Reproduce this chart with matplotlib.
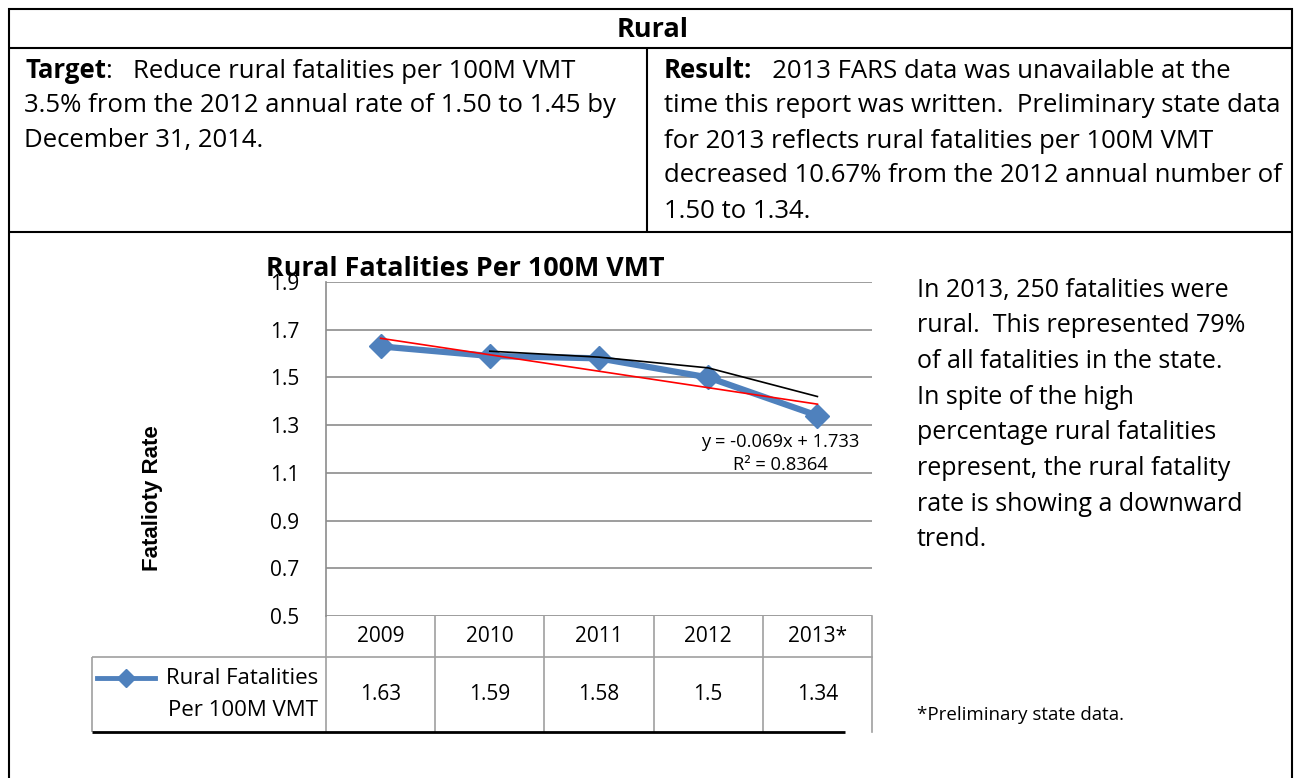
import numpy as np
import pandas as pd
import matplotlib
matplotlib.use('Agg')
import matplotlib.pyplot as plt
from matplotlib.lines import Line2D

years = ['2009', '2010', '2011', '2012', '2013*']
rates = [1.63, 1.59, 1.58, 1.5, 1.34]
rate_labels = ['1.63', '1.59', '1.58', '1.5', '1.34']
trend_slope = -0.069
trend_intercept = 1.733
trend_r2 = 0.8364
y_ticks = [0.5, 0.7, 0.9, 1.1, 1.3, 1.5, 1.7, 1.9]

plt.rcParams['font.family'] = ['Open Sans', 'DejaVu Sans']

W, H = 1299, 778
fig = plt.figure(figsize=(W / 100, H / 100), dpi=100)
fig.patch.set_facecolor('white')


def fx(x):
    return x / W


def fy(y):
    return 1 - y / H


def hline(y, x0, x1, color='black', lw=1.5):
    fig.add_artist(Line2D([fx(x0), fx(x1)], [fy(y), fy(y)], transform=fig.transFigure,
                          color=color, lw=lw, solid_capstyle='butt'))


def vline(x, y0, y1, color='black', lw=1.5):
    fig.add_artist(Line2D([fx(x), fx(x)], [fy(y0), fy(y1)], transform=fig.transFigure,
                          color=color, lw=lw, solid_capstyle='butt'))


def text(x, y, s, **kw):
    return fig.text(fx(x), fy(y), s, transform=fig.transFigure, **kw)


# outer table
hline(9, 8, 1293)
hline(48, 8, 1293)
hline(232, 8, 1293)
vline(9, 8, 778)
vline(1292, 8, 778)
vline(647, 48, 232)

body = 18.5
text(653, 30, 'Rural', ha='center', va='center', fontsize=19.5, fontweight='bold')

renderer = fig.canvas.get_renderer()


def mixed(x, y, bold, rest):
    t = text(x, y, bold, ha='left', va='center', fontsize=body, fontweight='bold')
    bb = t.get_window_extent(renderer)
    text(bb.x1, y, rest, ha='left', va='center', fontsize=body)


left_lines = ['3.5% from the 2012 annual rate of 1.50 to 1.45 by',
              'December 31, 2014.']
mixed(25, 71, 'Target', ':   Reduce rural fatalities per 100M VMT')
for i, s in enumerate(left_lines):
    text(24, 106 + 35 * i, s, ha='left', va='center', fontsize=body)

right_lines = ['time this report was written.  Preliminary state data',
               'for 2013 reflects rural fatalities per 100M VMT',
               'decreased 10.67% from the 2012 annual number of',
               '1.50 to 1.34.']
mixed(664, 71, 'Result:', '   2013 FARS data was unavailable at the')
for i, s in enumerate(right_lines):
    text(664, 106 + 35 * i, s, ha='left', va='center', fontsize=body)

side_lines = ['In 2013, 250 fatalities were',
              'rural.  This represented 79%',
              'of all fatalities in the state.',
              'In spite of the high',
              'percentage rural fatalities',
              'represent, the rural fatality',
              'rate is showing a downward',
              'trend.']
for i, s in enumerate(side_lines):
    text(917, 290 + 35.7 * i, s, ha='left', va='center', fontsize=18)
text(917, 715, '*Preliminary state data.', ha='left', va='center', fontsize=13.5)

# chart
ax_l, ax_t, ax_r, ax_b = 326, 282, 872, 616
ax = fig.add_axes([fx(ax_l), fy(ax_b), fx(ax_r) - fx(ax_l), (ax_b - ax_t) / H])
ax.set_xlim(0.5, 5.5)
ax.set_ylim(0.5, 1.9)
ax.set_facecolor('none')
for side in ['top', 'right', 'bottom']:
    ax.spines[side].set_visible(False)
ax.spines['left'].set_color('#8c8c8c')
ax.spines['left'].set_linewidth(1.2)
ax.set_xticks([])
ax.set_yticks(y_ticks)
ax.set_yticklabels([f'{v:.1f}' for v in y_ticks], fontsize=15)
ax.tick_params(axis='y', length=0, pad=19)
ax.grid(axis='y', color='#8c8c8c', lw=1.2)
ax.set_axisbelow(True)

xs = np.arange(1, len(rates) + 1)
ax.plot(xs, rates, color='#4f81bd', lw=4.5, marker='D', ms=12, zorder=3)
ax.plot(xs, trend_intercept + trend_slope * xs, color='#ff0000', lw=1.2, zorder=4)
avg = pd.Series(rates).rolling(2).mean()
ax.plot(xs[1:], avg[1:], color='black', lw=1.2, zorder=4)
ax.text(4.66, 1.181, f'y = {trend_slope}x + {trend_intercept}\nR² = {trend_r2}',
        ha='center', va='center', fontsize=13.2, linespacing=1.4)

ax.set_ylabel('Fatalioty Rate', fontsize=16, fontweight='bold', family='Liberation Sans')
ax.yaxis.set_label_coords((163 - ax_l) / (ax_r - ax_l), (ax_b - 498) / (ax_b - ax_t))

ax.set_title('Rural Fatalities Per 100M VMT', fontsize=19.4, fontweight='bold',
             x=(465 - ax_l) / (ax_r - ax_l), y=1.0, pad=4)


def ay(y):
    return (ax_b - y) / (ax_b - ax_t)


# data table under the plot
tr = ax.get_xaxis_transform()
grey = '#a0a0a0'
for b in np.arange(0.5, len(rates) + 1, 1.0):
    ax.plot([b, b], [ay(616), ay(732)], transform=tr, color=grey, lw=1.2, clip_on=False)
ax.plot([0.5, 5.5], [ay(657), ay(657)], transform=tr, color=grey, lw=1.2, clip_on=False)
hline(657, 92, 326, color=grey, lw=1.2)
vline(92, 657, 732, color=grey, lw=1.2)
hline(732, 92, 845, color='black', lw=2)

for x, lab, val in zip(xs, years, rate_labels):
    ax.text(x, ay(636), lab, transform=tr, ha='center', va='center', fontsize=15)
    ax.text(x, ay(694), val, transform=tr, ha='center', va='center', fontsize=15)

fig.add_artist(Line2D([fx(97), fx(155)], [fy(678), fy(678)], transform=fig.transFigure,
                      color='#4f81bd', lw=3.5))
fig.add_artist(Line2D([fx(126)], [fy(678)], transform=fig.transFigure, color='#4f81bd',
                      marker='D', ms=9))
text(318, 678, 'Rural Fatalities', ha='right', va='center', fontsize=16)
text(318, 711, 'Per 100M VMT', ha='right', va='center', fontsize=16)

fig.savefig('out.png', dpi=100)
